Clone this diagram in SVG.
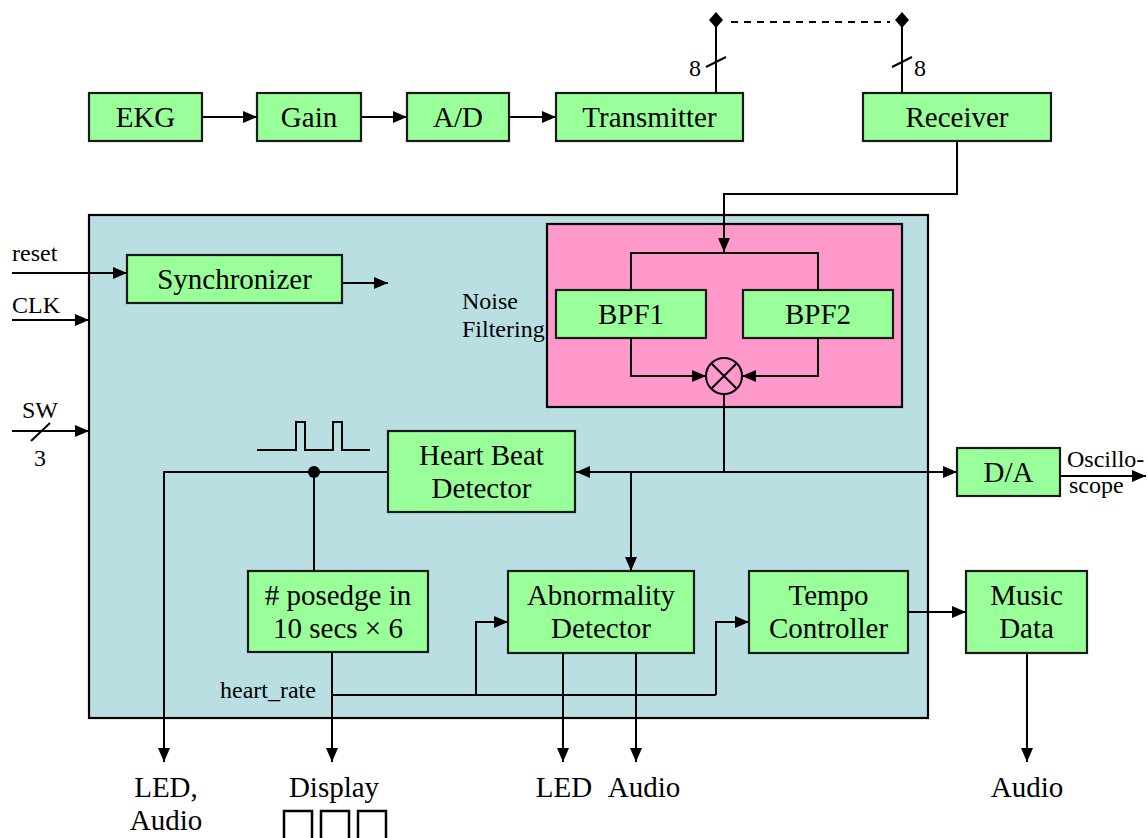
<svg xmlns="http://www.w3.org/2000/svg" width="1148" height="838" viewBox="0 0 1148 838">
<style>
.box{fill:#99FF99;stroke:#1a1a1a;stroke-width:2.2}
.t{font-family:"Liberation Serif","Times New Roman",serif;font-size:29px;fill:#000;text-anchor:middle}
.s{font-family:"Liberation Serif","Times New Roman",serif;font-size:24px;fill:#000}
.w{fill:none;stroke:#000;stroke-width:2}
</style>
<defs>
<marker id="ah" viewBox="0 0 14 12" refX="14" refY="6" markerWidth="14" markerHeight="12" markerUnits="userSpaceOnUse" orient="auto">
<path d="M0,0 L14,6 L0,12 Z" fill="#000"/>
</marker>
</defs>
<rect width="1148" height="838" fill="#fff"/>

<g id="main-block">
<rect x="89" y="215" width="839" height="503" fill="#BADFE3" stroke="#000" stroke-width="2.2"/>
</g>
<g id="noise-filtering">
<rect x="547" y="224" width="355" height="183" fill="#FF99CC" stroke="#000" stroke-width="2.2"/>
<text class="s" x="462" y="309">Noise</text>
<text class="s" x="462" y="337">Filtering</text>
</g>

<g id="ekg"><rect class="box" x="89" y="93" width="113" height="48"/><text class="t" x="145.5" y="127">EKG</text></g>
<g id="gain"><rect class="box" x="257" y="93" width="104" height="48"/><text class="t" x="309" y="127">Gain</text></g>
<g id="ad"><rect class="box" x="407" y="93" width="102" height="48"/><text class="t" x="458" y="127">A/D</text></g>
<g id="transmitter"><rect class="box" x="556" y="93" width="187" height="48"/><text class="t" x="649.5" y="127">Transmitter</text></g>
<g id="receiver"><rect class="box" x="863" y="93" width="188" height="48"/><text class="t" x="957" y="127">Receiver</text></g>
<g id="synchronizer"><rect class="box" x="127" y="255" width="215" height="48"/><text class="t" x="234.5" y="289">Synchronizer</text></g>
<g id="bpf1"><rect class="box" x="556" y="290" width="150" height="48"/><text class="t" x="631" y="324">BPF1</text></g>
<g id="bpf2"><rect class="box" x="743" y="290" width="150" height="48"/><text class="t" x="818" y="324">BPF2</text></g>
<g id="mixer"><circle cx="724" cy="376" r="18" fill="none" stroke="#000" stroke-width="2"/><path d="M711,389 L737,363 M711,363 L737,389" class="w"/></g>
<g id="heart-beat-detector"><rect class="box" x="388" y="431" width="187" height="81"/><text class="t" x="481.5" y="465">Heart Beat</text><text class="t" x="481.5" y="498">Detector</text></g>
<g id="da"><rect class="box" x="957" y="448" width="103" height="48"/><text class="t" x="1008.5" y="482">D/A</text></g>
<g id="posedge"><rect class="box" x="248" y="571" width="180" height="81"/><text class="t" x="338" y="605"># posedge in</text><text class="t" x="338" y="638">10 secs × 6</text></g>
<g id="abnormality-detector"><rect class="box" x="508" y="571" width="186" height="82"/><text class="t" x="601" y="605">Abnormality</text><text class="t" x="601" y="638">Detector</text></g>
<g id="tempo-controller"><rect class="box" x="749" y="571" width="159" height="82"/><text class="t" x="828.5" y="605">Tempo</text><text class="t" x="828.5" y="638">Controller</text></g>
<g id="music-data"><rect class="box" x="966" y="571" width="121" height="82"/><text class="t" x="1026.5" y="605">Music</text><text class="t" x="1026.5" y="638">Data</text></g>

<g id="connectors">
<line class="w" x1="202" y1="117" x2="257" y2="117" marker-end="url(#ah)"/>
<line class="w" x1="361" y1="117" x2="407" y2="117" marker-end="url(#ah)"/>
<line class="w" x1="509" y1="117" x2="556" y2="117" marker-end="url(#ah)"/>
<line class="w" x1="716" y1="93" x2="716" y2="20"/>
<line class="w" x1="902" y1="93" x2="902" y2="20"/>
<line class="w" x1="706" y1="67" x2="726" y2="57"/>
<line class="w" x1="892" y1="67" x2="912" y2="57"/>
<path d="M716,12 L723,20 L716,28 L709,20 Z" fill="#000"/>
<path d="M902,12 L909,20 L902,28 L895,20 Z" fill="#000"/>
<line x1="731" y1="22" x2="890" y2="22" stroke="#000" stroke-width="2" stroke-dasharray="7,6"/>
<polyline class="w" points="957,141 957,194 724,194 724,252" marker-end="url(#ah)"/>
<polyline class="w" points="631,290 631,253 818,253 818,290"/>
<polyline class="w" points="631,338 631,376 706,376" marker-end="url(#ah)"/>
<polyline class="w" points="818,338 818,376 742,376" marker-end="url(#ah)"/>
<polyline class="w" points="724,394 724,472 576,472" marker-end="url(#ah)"/>
<line class="w" x1="724" y1="472" x2="957" y2="472" marker-end="url(#ah)"/>
<line class="w" x1="1060" y1="476" x2="1146" y2="476" marker-end="url(#ah)"/>
<line class="w" x1="631" y1="472" x2="631" y2="571" marker-end="url(#ah)"/>
<polyline class="w" points="388,472 164,472 164,762" marker-end="url(#ah)"/>
<line class="w" x1="314" y1="472" x2="314" y2="571"/>
<circle cx="314" cy="472" r="6" fill="#000"/>
<polyline class="w" points="257,450 296,450 296,422 305,422 305,450 333,450 333,422 342,422 342,450 370,450"/>
<line class="w" x1="12" y1="273" x2="127" y2="273" marker-end="url(#ah)"/>
<line class="w" x1="342" y1="283" x2="388" y2="283" marker-end="url(#ah)"/>
<line class="w" x1="12" y1="320" x2="89" y2="320" marker-end="url(#ah)"/>
<line class="w" x1="12" y1="431" x2="89" y2="431" marker-end="url(#ah)"/>
<line class="w" x1="31" y1="441" x2="50" y2="423"/>
<line class="w" x1="332" y1="652" x2="332" y2="762" marker-end="url(#ah)"/>
<line class="w" x1="332" y1="695" x2="716" y2="695"/>
<polyline class="w" points="476,695 476,622 508,622" marker-end="url(#ah)"/>
<polyline class="w" points="716,695 716,622 749,622" marker-end="url(#ah)"/>
<line class="w" x1="563" y1="653" x2="563" y2="762" marker-end="url(#ah)"/>
<line class="w" x1="636" y1="653" x2="636" y2="762" marker-end="url(#ah)"/>
<line class="w" x1="908" y1="612" x2="966" y2="612" marker-end="url(#ah)"/>
<line class="w" x1="1027" y1="653" x2="1027" y2="762" marker-end="url(#ah)"/>
</g>

<g id="labels">
<text class="s" x="689" y="76">8</text>
<text class="s" x="914" y="76">8</text>
<text class="s" x="12" y="261">reset</text>
<text class="s" x="12" y="313">CLK</text>
<text class="s" x="40" y="418" text-anchor="middle">SW</text>
<text class="s" x="40" y="466" text-anchor="middle">3</text>
<text class="s" x="1067" y="467">Oscillo-</text>
<text class="s" x="1069" y="493">scope</text>
<text class="s" x="220" y="698">heart_rate</text>
<text class="t" x="166" y="797">LED,</text>
<text class="t" x="166" y="830">Audio</text>
<text class="t" x="334" y="797">Display</text>
<text class="t" x="564" y="797">LED</text>
<text class="t" x="644" y="797">Audio</text>
<text class="t" x="1027" y="797">Audio</text>
</g>
<g id="display-digits">
<rect x="284" y="811" width="28" height="40" fill="none" stroke="#000" stroke-width="2.5"/>
<rect x="321" y="811" width="28" height="40" fill="none" stroke="#000" stroke-width="2.5"/>
<rect x="358" y="811" width="28" height="40" fill="none" stroke="#000" stroke-width="2.5"/>
</g>
</svg>
